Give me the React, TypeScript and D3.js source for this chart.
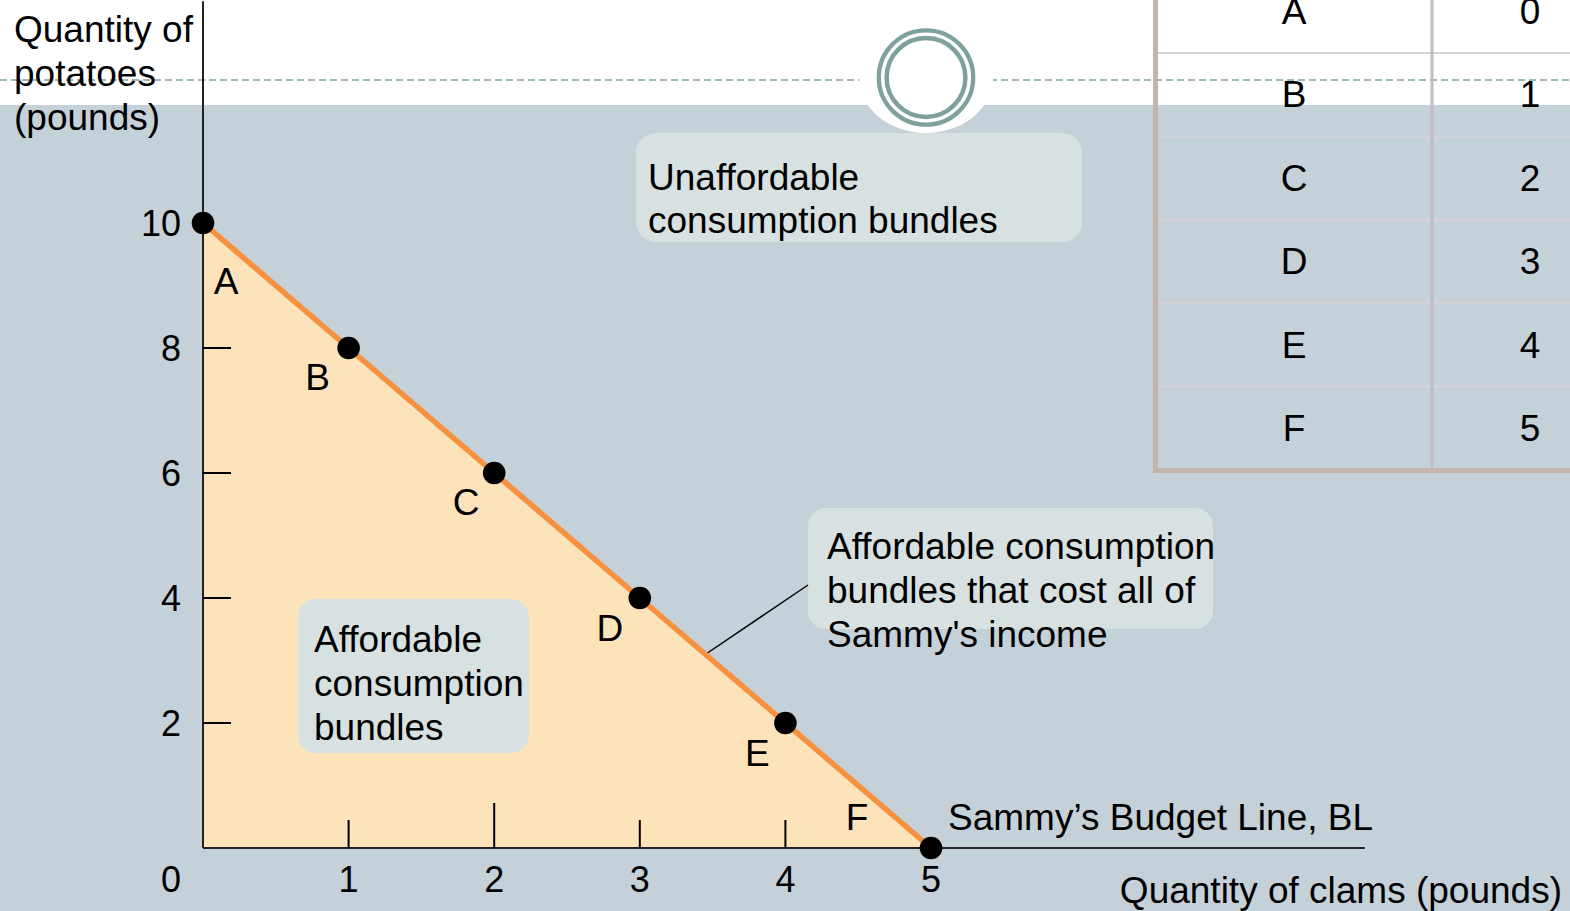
import React from "react";
import * as d3 from "d3";

// ---- data ----
const bundles = ["A", "B", "C", "D", "E", "F"];
const clams = [0, 1, 2, 3, 4, 5];
const potatoes = [10, 8, 6, 4, 2, 0];
const yTicks = [2, 4, 6, 8];
const xTicks = [1, 2, 3, 4];
const yTickLabels = ["2", "4", "6", "8", "10"];
const xTickLabels = ["1", "2", "3", "4", "5"];

// label offsets from each point (layout)
const labelOffsets: [number, number][] = [
  [23, 71],
  [-31, 42],
  [-28, 42],
  [-30, 43],
  [-28, 43],
  [-74, -18],
];

const FONT = "'Liberation Sans', Arial, Helvetica, sans-serif";
const BG = "#c5d1d8";
const PEACH = "#fde3ba";
const ORANGE = "#f5913f";
const BOX = "#d7e1e1";
const TEAL = "#7fa19e";

export default function App() {
  const W = 1570;
  const H = 911;
  const x = d3.scaleLinear().domain([0, 5]).range([203, 931]);
  const y = d3.scaleLinear().domain([0, 10]).range([848, 223]);

  const pts = bundles.map((b, i) => ({ b, cx: clams[i], py: potatoes[i] }));
  const line = d3
    .line<{ cx: number; py: number }>()
    .x((d) => x(d.cx))
    .y((d) => y(d.py));
  const area = d3
    .area<{ cx: number; py: number }>()
    .x((d) => x(d.cx))
    .y0(y(0))
    .y1((d) => y(d.py));

  const rows = d3.scaleBand<string>().domain(bundles).range([-30.4, 470]);
  const bw = rows.bandwidth();

  const txt = { fontFamily: FONT, fontSize: 37, fill: "#000" } as const;

  return (
    <>
      <style>{`body{margin:0;} svg{display:block;}`}</style>
      <svg width={W} height={H} viewBox={`0 0 ${W} ${H}`}>
        <rect x={0} y={0} width={W} height={H} fill="#fff" />
        <rect x={0} y={105} width={W} height={H - 105} fill={BG} />
        {/* dashed line */}
        <line x1={0} y1={80} x2={860} y2={80} stroke={TEAL} strokeWidth={1.5} strokeDasharray="7 4" />
        <line x1={990} y1={80} x2={W} y2={80} stroke={TEAL} strokeWidth={1.5} strokeDasharray="7 4" />
        {/* white bump + circle */}
        <ellipse cx={926} cy={77.5} rx={67} ry={55.5} fill="#fff" />
        <circle cx={926} cy={77.5} r={47.2} fill="none" stroke={TEAL} strokeWidth={4.3} />
        <circle cx={926} cy={77.5} r={39.4} fill="none" stroke={TEAL} strokeWidth={4.5} />

        {/* table */}
        {bundles.slice(0, 5).map((b) => (
          <line
            key={"rl" + b}
            x1={1158}
            x2={W}
            y1={(rows(b) as number) + bw}
            y2={(rows(b) as number) + bw}
            stroke="#d3d3d6"
            strokeWidth={2}
          />
        ))}
        <line x1={1432} x2={1432} y1={0} y2={468} stroke="#bdbdbd" strokeWidth={3} />
        <line x1={1155.5} x2={1155.5} y1={0} y2={473} stroke="#c4b4ac" strokeWidth={5} />
        <line x1={1153} x2={W} y1={470.5} y2={470.5} stroke="#c4b4ac" strokeWidth={5} />
        {bundles.map((b, i) => (
          <g key={"tr" + b}>
            <text {...txt} x={1294} y={(rows(b) as number) + bw - 29} textAnchor="middle">
              {b}
            </text>
            <text {...txt} x={1530} y={(rows(b) as number) + bw - 29} textAnchor="middle">
              {clams[i]}
            </text>
          </g>
        ))}

        {/* affordable region */}
        <path d={area(pts) || ""} fill={PEACH} />

        {/* boxes */}
        <rect x={636} y={133} width={446} height={109} rx={20} fill={BOX} />
        <text {...txt} x={648} y={190}>Unaffordable</text>
        <text {...txt} x={648} y={233}>consumption bundles</text>

        <rect x={298} y={599} width={231} height={154} rx={18} fill={BOX} />
        <text {...txt} x={314} y={652}>Affordable</text>
        <text {...txt} x={314} y={696}>consumption</text>
        <text {...txt} x={314} y={740}>bundles</text>

        <rect x={808} y={508} width={405} height={121} rx={18} fill={BOX} />
        <text {...txt} x={827} y={559}>Affordable consumption</text>
        <text {...txt} x={827} y={603}>bundles that cost all of</text>
        <text {...txt} x={827} y={647}>Sammy's income</text>
        <line x1={808} y1={585} x2={706} y2={654} stroke="#000" strokeWidth={1.5} />

        {/* axes */}
        <line x1={x(0)} x2={x(0)} y1={y(13.55)} y2={y(0)} stroke="#222" strokeWidth={2} />
        <line x1={x(0)} x2={x(7.98)} y1={y(0)} y2={y(0)} stroke="#222" strokeWidth={2} />
        {yTicks.map((t) => (
          <line key={"yt" + t} x1={x(0)} x2={x(0) + 28} y1={y(t)} y2={y(t)} stroke="#000" strokeWidth={2} />
        ))}
        {xTicks.map((t) => (
          <line
            key={"xt" + t}
            x1={x(t)}
            x2={x(t)}
            y1={y(0)}
            y2={y(0) - (t === 2 ? 45 : 28)}
            stroke="#000"
            strokeWidth={2}
          />
        ))}
        {[...yTicks, 10].map((t, i) => (
          <text key={"yl" + t} {...txt} fontSize={36} x={181} y={y(t) + 13} textAnchor="end">
            {yTickLabels[i]}
          </text>
        ))}
        <text {...txt} fontSize={36} x={171} y={892} textAnchor="middle">0</text>
        {[...xTicks, 5].map((t, i) => (
          <text key={"xl" + t} {...txt} fontSize={36} x={x(t)} y={892} textAnchor="middle">
            {xTickLabels[i]}
          </text>
        ))}

        {/* budget line */}
        <path d={line(pts) || ""} fill="none" stroke={ORANGE} strokeWidth={5.5} />
        {pts.map((p) => (
          <circle key={"pt" + p.b} cx={x(p.cx)} cy={y(p.py)} r={11.3} fill="#000" />
        ))}
        {pts.map((p, i) => (
          <text
            key={"lb" + p.b}
            {...txt}
            x={x(p.cx) + labelOffsets[i][0]}
            y={y(p.py) + labelOffsets[i][1]}
            textAnchor="middle"
          >
            {p.b}
          </text>
        ))}

        {/* axis titles */}
        <text {...txt} x={14} y={42}>Quantity of</text>
        <text {...txt} x={14} y={86}>potatoes</text>
        <text {...txt} x={14} y={130}>(pounds)</text>
        <text {...txt} x={948} y={830}>Sammy’s Budget Line, BL</text>
        <text {...txt} x={1562} y={903} textAnchor="end">Quantity of clams (pounds)</text>
      </svg>
    </>
  );
}
